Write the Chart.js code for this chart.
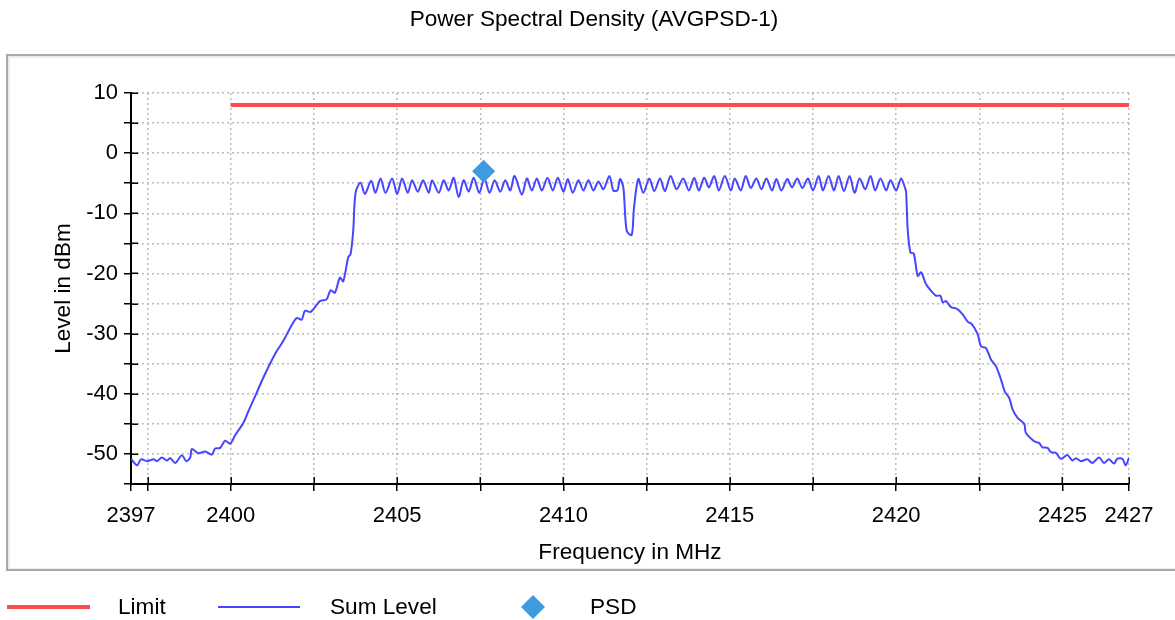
<!DOCTYPE html>
<html>
<head>
<meta charset="utf-8">
<title>Power Spectral Density (AVGPSD-1)</title>
<script src="https://cdn.jsdelivr.net/npm/chart.js@4.4.1/dist/chart.umd.min.js"></script>
<style>
  html, body { margin: 0; padding: 0; background: #fff; }
  #myChart { display: block; }
</style>
</head>
<body>
<canvas id="myChart" width="1175" height="620"></canvas>
<script>
// Sum Level trace (MHz / dBm)
var sumFreq = [
  2397.0, 2397.18, 2397.3, 2397.48, 2397.68, 2397.78, 2397.93, 2398.08, 2398.18, 2398.33,
  2398.53, 2398.66, 2398.78, 2398.83, 2399.03, 2399.23, 2399.43, 2399.53, 2399.68, 2399.83,
  2399.98, 2400.13, 2400.38, 2400.53, 2400.78, 2400.98, 2401.33, 2401.58, 2401.78, 2401.98,
  2402.13, 2402.23, 2402.4, 2402.68, 2402.88, 2403.0, 2403.13, 2403.28, 2403.38, 2403.53,
  2403.6, 2403.68, 2403.75,
  2403.9, 2404.03, 2404.22, 2404.35, 2404.5, 2404.65, 2404.85, 2405.0, 2405.15, 2405.32,
  2405.45, 2405.62, 2405.78, 2405.95, 2406.05, 2406.25, 2406.4, 2406.55, 2406.7, 2406.85,
  2407.0, 2407.15, 2407.3, 2407.47, 2407.62, 2407.78, 2407.93, 2408.1, 2408.25, 2408.4,
  2408.53, 2408.75, 2408.9, 2409.05, 2409.2, 2409.35, 2409.52, 2409.68, 2409.83, 2410.0,
  2410.13, 2410.28, 2410.45, 2410.6, 2410.75, 2410.9, 2411.05, 2411.2, 2411.38, 2411.5,
  2411.62, 2411.7, 2411.8, 2411.9, 2412.05, 2412.12, 2412.25, 2412.4, 2412.58, 2412.73,
  2412.9, 2413.05, 2413.22, 2413.4, 2413.6, 2413.77, 2413.93, 2414.07, 2414.23, 2414.37,
  2414.53, 2414.67, 2414.85, 2415.03, 2415.15, 2415.33, 2415.48, 2415.63, 2415.8, 2415.95,
  2416.1, 2416.27, 2416.4, 2416.55, 2416.73, 2416.87, 2417.03, 2417.18, 2417.35, 2417.5,
  2417.67, 2417.8, 2417.97, 2418.13, 2418.27, 2418.43, 2418.6, 2418.75, 2418.9, 2419.07,
  2419.23, 2419.37, 2419.53, 2419.7, 2419.83, 2420.0, 2420.15, 2420.27, 2420.3,
  2420.35, 2420.43, 2420.53, 2420.65, 2420.75, 2420.9, 2421.1, 2421.2, 2421.33, 2421.4,
  2421.5, 2421.65, 2421.83, 2422.0, 2422.15, 2422.27, 2422.45, 2422.55, 2422.7, 2422.85,
  2423.0, 2423.15, 2423.27, 2423.4, 2423.5, 2423.65, 2423.85, 2423.9, 2424.15, 2424.3,
  2424.4, 2424.55, 2424.65, 2424.8, 2424.95, 2425.15, 2425.3, 2425.4, 2425.55, 2425.75,
  2425.9, 2426.1, 2426.25, 2426.4, 2426.55, 2426.65, 2426.8, 2426.9, 2427.0
]
var sumLevel = [
  -50.8, -51.9, -50.9, -51.2, -50.9, -51.2, -50.6, -51.1, -50.7, -51.5,
  -50.2, -51.2, -50.6, -49.2, -49.9, -49.6, -50.1, -49.1, -49.0, -47.8,
  -48.3, -46.9, -44.8, -42.9, -39.8, -37.3, -33.4, -31.2, -29.1, -27.4,
  -27.7, -26.2, -26.4, -24.6, -24.3, -22.8, -23.2, -20.7, -21.3, -17.3,
  -16.8, -12.9, -6.6,
  -4.9, -6.8, -4.6, -6.6, -4.2, -6.6, -4.2, -6.8, -4.2, -6.6,
  -4.5, -6.4, -4.5, -6.6, -4.5, -6.6, -4.5, -6.2, -4.1, -7.3,
  -4.5, -6.4, -4.1, -6.6, -4.2, -6.6, -4.5, -6.4, -4.5, -6.2,
  -3.8, -6.9, -4.2, -6.2, -4.2, -6.2, -4.1, -6.2, -4.1, -6.4,
  -4.3, -6.6, -4.5, -6.2, -4.5, -6.2, -4.7, -6.0, -3.8, -6.2,
  -6.2, -4.3, -5.7, -12.9, -13.6, -9.1, -4.3, -6.6, -4.2, -6.3,
  -4.2, -6.3, -3.8, -6.0, -4.2, -6.2, -4.1, -6.2, -4.1, -5.7,
  -3.8, -6.2, -3.8, -6.2, -4.2, -6.2, -3.8, -5.8, -4.2, -6.0,
  -4.2, -6.2, -4.3, -6.2, -4.3, -5.7, -4.2, -5.8, -4.2, -6.2,
  -3.8, -6.2, -3.8, -6.2, -3.8, -6.3, -3.8, -6.6, -4.2, -6.0,
  -3.8, -6.2, -4.2, -6.2, -4.5, -6.2, -4.2, -5.8, -6.5,
  -12.9, -16.5, -16.7, -20.4, -19.8, -21.8, -23.2, -23.7, -23.7, -24.8,
  -24.6, -25.6, -25.9, -26.8, -28.0, -28.4, -30.1, -32.1, -32.4, -34.3,
  -35.4, -37.6, -39.7, -40.7, -42.6, -44.0, -45.0, -46.5, -47.9, -48.2,
  -48.9, -49.0, -49.7, -49.8, -50.8, -50.2, -51.1, -50.7, -51.2, -50.9,
  -51.5, -50.6, -51.5, -50.9, -51.6, -50.8, -50.8, -51.9, -50.6
]

// limit line and PSD marker
var limitFreq = [2400, 2427]
var limitLevel = [8, 8]
var psdFreq = [2407.6]
var psdLevel = [-3]

// axes
var xTickValues = [2397, 2397.5, 2400, 2402.5, 2405, 2407.5, 2410, 2412.5, 2415, 2417.5, 2420, 2422.5, 2425, 2427]
var xTickLabels = ['2397', '', '2400', '', '2405', '', '2410', '', '2415', '', '2420', '', '2425', '2427']
var yMin = -55
var yMax = 10
var yStep = 5

var chartTitle = 'Power Spectral Density (AVGPSD-1)'
var FONT = "'Liberation Sans', Arial, Helvetica, sans-serif"

const toPoints = (xs, ys) => xs.map((x, i) => ({x: x, y: ys[i]}))

// grey frame round the plot, plus the title above it
const frameBox = {
  id: 'frameBox',
  beforeDraw(chart) {
    const ctx = chart.ctx
    ctx.save()
    ctx.fillStyle = '#fff'
    ctx.fillRect(0, 0, chart.width, chart.height)
    ctx.strokeStyle = '#ececec'
    ctx.lineWidth = 2
    ctx.strokeRect(9, 57, chart.width + 20, 512)
    ctx.strokeStyle = '#a9a9a9'
    ctx.lineWidth = 2
    ctx.strokeRect(7, 55, chart.width + 20, 515)
    ctx.fillStyle = '#000'
    ctx.font = '22.6px ' + FONT
    ctx.textAlign = 'center'
    ctx.textBaseline = 'alphabetic'
    ctx.fillText(chartTitle, 594, 26)
    ctx.restore()
  }
}

// tick marks that cross the axis lines
const innerTicks = {
  id: 'innerTicks',
  afterDraw(chart) {
    const ctx = chart.ctx
    const area = chart.chartArea
    const xs = chart.scales.x
    const ys = chart.scales.y
    ctx.save()
    ctx.strokeStyle = '#000'
    ctx.lineWidth = 1.5
    xs.ticks.forEach((t, i) => {
      const px = Math.round(xs.getPixelForTick(i)) + 0.25
      ctx.beginPath()
      ctx.moveTo(px, area.bottom)
      ctx.lineTo(px, area.bottom - 7)
      ctx.stroke()
    })
    ys.ticks.forEach((t, i) => {
      const py = Math.round(ys.getPixelForTick(i)) + 0.25
      ctx.beginPath()
      ctx.moveTo(area.left, py)
      ctx.lineTo(area.left + 7, py)
      ctx.stroke()
    })
    ctx.restore()
  }
}

// legend row under the frame
const legendRow = {
  id: 'legendRow',
  afterDraw(chart) {
    const ctx = chart.ctx
    const y = 607
    const items = [
      {ds: 1, x0: 7, x1: 90, tx: 118},
      {ds: 2, x0: 218, x1: 300, tx: 330},
      {ds: 0, x0: 521, x1: 545, tx: 590}
    ]
    ctx.save()
    ctx.font = '22.6px ' + FONT
    ctx.textBaseline = 'middle'
    ctx.textAlign = 'left'
    items.forEach(it => {
      const ds = chart.data.datasets[it.ds]
      if (ds.showLine === false) {
        const cx = (it.x0 + it.x1) / 2
        const r = 12
        ctx.fillStyle = ds.backgroundColor
        ctx.beginPath()
        ctx.moveTo(cx - r, y)
        ctx.lineTo(cx, y - r)
        ctx.lineTo(cx + r, y)
        ctx.lineTo(cx, y + r)
        ctx.closePath()
        ctx.fill()
      } else {
        ctx.strokeStyle = ds.borderColor
        ctx.lineWidth = ds.borderWidth
        ctx.beginPath()
        ctx.moveTo(it.x0, y)
        ctx.lineTo(it.x1, y)
        ctx.stroke()
      }
      ctx.fillStyle = '#000'
      ctx.fillText(ds.label, it.tx, y + 1)
    })
    ctx.restore()
  }
}

const data = {
  datasets: [
    {
      label: 'PSD',
      data: toPoints(psdFreq, psdLevel),
      showLine: false,
      pointStyle: 'rectRot',
      pointRadius: 11.5,
      pointBorderWidth: 0,
      backgroundColor: '#3e9be0',
      borderColor: '#3e9be0',
      order: 0
    },
    {
      label: 'Limit',
      data: toPoints(limitFreq, limitLevel),
      borderColor: '#ff4b4b',
      borderWidth: 4,
      pointRadius: 0,
      order: 1
    },
    {
      label: 'Sum Level',
      data: toPoints(sumFreq, sumLevel),
      borderColor: '#4646ff',
      borderWidth: 2,
      pointRadius: 0,
      tension: 0.3,
      order: 2
    }
  ]
}

const tickFont = {family: FONT, size: 22, weight: 'normal'}
const axisTitleFont = {family: FONT, size: 22.6, weight: 'normal', lineHeight: 1.2}

const config = {
  type: 'line',
  data: data,
  plugins: [frameBox, innerTicks, legendRow],
  options: {
    responsive: false,
    animation: false,
    events: [],
    layout: {padding: {left: 0, right: 46, top: 93, bottom: 0}},
    plugins: {
      legend: {display: false},
      tooltip: {enabled: false},
      title: {display: false}
    },
    scales: {
      x: {
        type: 'linear',
        min: xTickValues[0],
        max: xTickValues[xTickValues.length - 1],
        afterBuildTicks: (s) => { s.ticks = xTickValues.map(v => ({value: v})) },
        afterFit: (s) => { s.height = 136 },
        ticks: {
          autoSkip: false,
          maxRotation: 0,
          color: '#000',
          font: tickFont,
          padding: 12,
          callback: (v, i) => xTickLabels[i]
        },
        grid: {color: '#bcbcbc', lineWidth: 1.5, tickColor: '#000', tickWidth: 1.5, tickLength: 7},
        border: {color: '#000', width: 2, dash: [2, 3]},
        title: {
          display: true,
          text: 'Frequency in MHz',
          color: '#000',
          font: axisTitleFont,
          padding: {top: 0, bottom: 53.4}
        }
      },
      y: {
        min: yMin,
        max: yMax,
        afterFit: (s) => { s.width = 131 },
        ticks: {
          stepSize: yStep,
          color: '#000',
          font: tickFont,
          padding: 6,
          callback: (v) => (v % 10 === 0 ? String(v) : '')
        },
        grid: {color: '#bcbcbc', lineWidth: 1.5, tickColor: '#000', tickWidth: 1.5, tickLength: 7},
        border: {color: '#000', width: 2, dash: [2, 3]},
        title: {
          display: true,
          text: 'Level in dBm',
          color: '#000',
          font: axisTitleFont,
          padding: {top: 49.8, bottom: 0}
        }
      }
    }
  }
}

var myChart = new Chart('myChart', config)
</script>
</body>
</html>
